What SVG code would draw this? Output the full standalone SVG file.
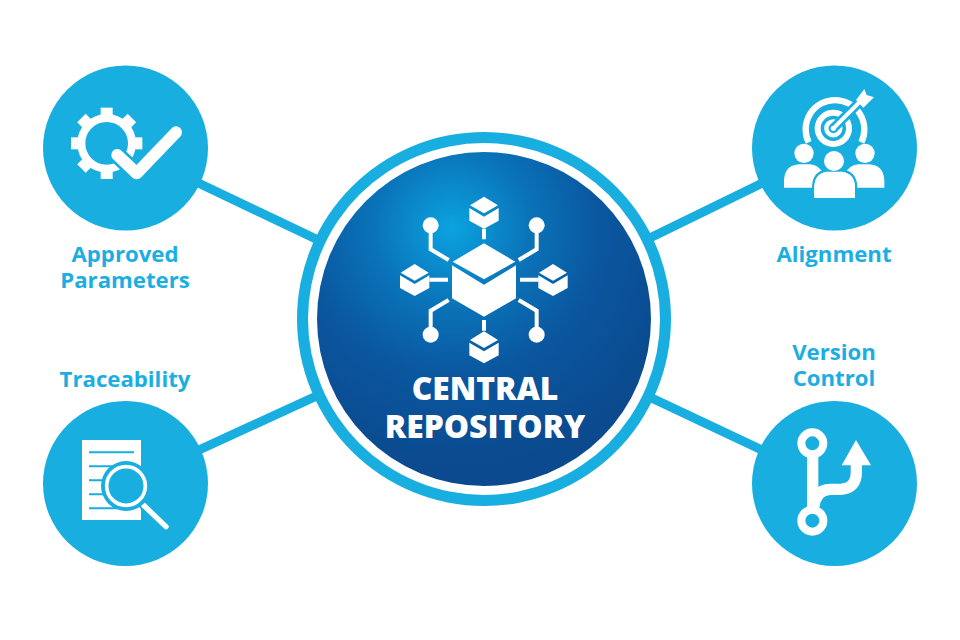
<svg xmlns="http://www.w3.org/2000/svg" width="960" height="640" viewBox="0 0 960 640">
<style>
.c{fill:#19aee0}
.w{fill:#fff}
.b{fill:none;stroke:#fff;stroke-width:12}
.lb{font-family:"Open Sans","Noto Sans",sans-serif;font-weight:700;font-size:22.2px;fill:#1caee2;text-anchor:middle}
.ct{font-family:"Open Sans","Noto Sans",sans-serif;font-weight:800;font-size:31.8px;fill:#fff;text-anchor:middle}
.cn{stroke:#19aee0;stroke-width:9;fill:none}
</style>
<defs>
<radialGradient id="g" gradientUnits="userSpaceOnUse" cx="452" cy="228" r="240">
<stop offset="0" stop-color="#0ba3e0"/><stop offset=".32" stop-color="#0a74b9"/><stop offset=".62" stop-color="#0a569f"/><stop offset="1" stop-color="#0b4a8e"/>
</radialGradient>
<g id="cube">
<path class="w" d="M0 0L42 26L0 50L-42 26Z"/>
<path class="w" d="M-44 34L0 60L44 34V72L0 96L-44 72Z"/>
</g>
</defs>
<rect width="960" height="640" fill="#fff"/>
<g id="connectors">
<path class="cn" d="M125 148L484 319"/>
<path class="cn" d="M834 148L484 319"/>
<path class="cn" d="M125 484L484 319"/>
<path class="cn" d="M834 484L484 319"/>
</g>
<g id="central">
<circle cx="484" cy="319" r="187" class="c"/>
<circle cx="484" cy="319" r="176" class="w"/>
<circle cx="484" cy="319" r="167" fill="url(#g)"/>
<g transform="translate(380 180) scale(.33333)">
<path class="w" d="M312 190L406 245L312 298L218 245Z"/>
<path class="w" d="M216 256L312 314L408 256V355L312 410L216 355Z"/>
<use href="#cube" x="312" y="50"/>
<use href="#cube" x="312" y="454"/>
<use href="#cube" x="104" y="252"/>
<use href="#cube" x="519" y="252"/>
<path class="b" d="M312 146V178M312 420V452M148 299H204M420 299H476M152 136V208L206 240M470 136V208L416 240M152 464V392L206 360M470 464V392L416 360"/>
<circle class="w" cx="152" cy="136" r="24"/><circle class="w" cx="470" cy="136" r="24"/>
<circle class="w" cx="152" cy="464" r="24"/><circle class="w" cx="470" cy="464" r="24"/>
</g>
<text class="ct"><tspan x="485" y="400">CENTRAL</tspan><tspan x="485" y="438">REPOSITORY</tspan></text>
</g>
<g id="approved">
<circle cx="125.5" cy="148" r="82.5" class="c"/>
<g transform="translate(40 70) scale(.33333)">
<circle cx="200" cy="220" r="76" fill="none" stroke="#fff" stroke-width="24"/>
<g class="w"><rect x="182" y="113" width="36" height="30"/><rect x="182" y="113" width="36" height="30" transform="rotate(45 200 220)"/><rect x="182" y="113" width="36" height="30" transform="rotate(90 200 220)"/><rect x="182" y="113" width="36" height="30" transform="rotate(135 200 220)"/><rect x="182" y="113" width="36" height="30" transform="rotate(180 200 220)"/><rect x="182" y="113" width="36" height="30" transform="rotate(225 200 220)"/><rect x="182" y="113" width="36" height="30" transform="rotate(270 200 220)"/><rect x="182" y="113" width="36" height="30" transform="rotate(315 200 220)"/></g>
<path d="M232 255L290 310L408 187" fill="none" stroke="#19aee0" stroke-width="52" stroke-linecap="round" stroke-linejoin="round"/>
<path d="M232 255L290 310L408 187" fill="none" stroke="#fff" stroke-width="36" stroke-linecap="round" stroke-linejoin="round"/>
</g>
<text class="lb"><tspan x="125" y="262">Approved</tspan><tspan x="125" y="288">Parameters</tspan></text>
</g>
<g id="alignment">
<circle cx="834.5" cy="148" r="82.5" class="c"/>
<g transform="translate(750 65) scale(.33333)">
<path d="M176 232A88 88 0 1 1 334 232" fill="none" stroke="#fff" stroke-width="19"/>
<circle cx="250" cy="190" r="47" fill="none" stroke="#fff" stroke-width="18"/>
<circle cx="250" cy="190" r="21" fill="none" stroke="#fff" stroke-width="13"/>
<path d="M250 190L345 95" stroke="#19aee0" stroke-width="28" fill="none"/>
<circle cx="250" cy="190" r="8" class="w"/>
<path d="M250 190L330 110" stroke="#fff" stroke-width="12" fill="none"/>
<path class="w" d="M318 105L343 72L350 90L372 97L340 128Z"/>
<circle cx="162" cy="265" r="29" class="w"/><circle cx="345" cy="265" r="29" class="w"/>
<path class="w" d="M102 368V345Q105 300 148 298H180Q205 300 220 325V368Z"/>
<path class="w" d="M403 368V345Q400 300 357 298H325Q300 300 285 325V368Z"/>
<path d="M193 398V368Q193 325 232 320H274Q315 325 315 368V398Z" class="w" stroke="#19aee0" stroke-width="14" paint-order="stroke"/>
<circle cx="252" cy="288" r="30" class="w" stroke="#19aee0" stroke-width="14" paint-order="stroke"/>
<path d="M193 398V368Q193 325 232 320H274Q315 325 315 368V398Z" class="w"/>
</g>
<text class="lb" x="834" y="262">Alignment</text>
</g>
<g id="traceability">
<circle cx="125.5" cy="483.5" r="82.5" class="c"/>
<g transform="translate(40 400) scale(.33333)">
<rect class="w" x="126" y="120" width="177" height="240"/>
<path d="M147 157H282M147 199H282M147 241H282M147 283H282M147 325H282" stroke="#19aee0" stroke-width="6" fill="none"/>
<path d="M310 315L378 380" stroke="#19aee0" stroke-width="28" stroke-linecap="round"/>
<path d="M310 315L378 380" stroke="#fff" stroke-width="16" stroke-linecap="round"/>
<circle cx="258" cy="258" r="75" class="c"/>
<circle cx="258" cy="258" r="58" fill="none" stroke="#fff" stroke-width="11"/>
</g>
<text class="lb" x="125" y="387">Traceability</text>
</g>
<g id="version">
<circle cx="834.5" cy="483.5" r="82.5" class="c"/>
<g transform="translate(750 400) scale(.33333)">
<path d="M188 165V330" stroke="#fff" stroke-width="34" fill="none"/>
<path d="M192 320Q196 270 240 268H272Q319 266 319 215V190" stroke="#fff" stroke-width="34" fill="none"/>
<path class="w" d="M318 120L363 196H275Z"/>
<circle cx="187" cy="130" r="33" fill="#19aee0" stroke="#fff" stroke-width="24"/>
<circle cx="187" cy="362" r="33" fill="#19aee0" stroke="#fff" stroke-width="24"/>
</g>
<text class="lb"><tspan x="834" y="360">Version</tspan><tspan x="834" y="386">Control</tspan></text>
</g>
</svg>
